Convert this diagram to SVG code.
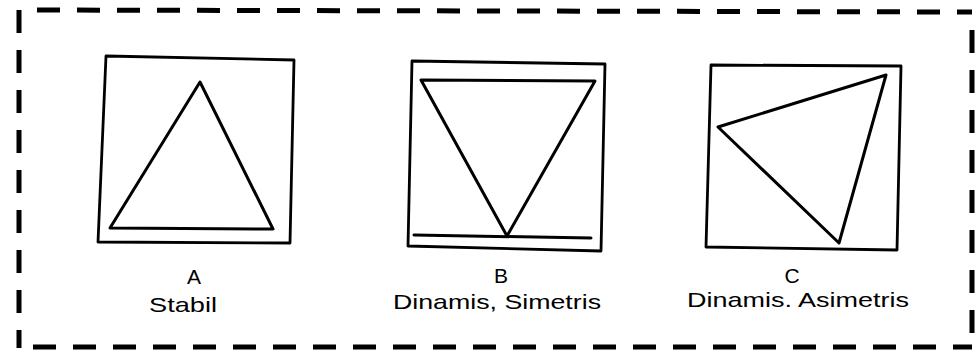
<svg xmlns="http://www.w3.org/2000/svg" width="979" height="356" viewBox="0 0 979 356">
<style>
.frame{fill:none;stroke:#000;stroke-width:5;stroke-dasharray:23 17;stroke-linecap:butt}
.box{fill:none;stroke:#000;stroke-width:2.8;stroke-linejoin:round;stroke-linecap:round}
.tri{fill:none;stroke:#000;stroke-width:3;stroke-linejoin:round;stroke-linecap:round}
.lbl{font-family:"Liberation Sans",Arial,sans-serif;font-size:21px;fill:#000;text-anchor:middle}
</style>
<rect width="979" height="356" fill="#fff"/>
<g id="frame">
<line class="frame" x1="37" y1="10" x2="972" y2="12"/>
<line class="frame" x1="19" y1="10" x2="19" y2="348"/>
<line class="frame" x1="33" y1="347" x2="972" y2="347"/>
<line class="frame" x1="972" y1="30" x2="972" y2="340"/>
</g>
<g id="panelA">
<path class="box" d="M106,56 L294,60 L290,243 L98,242 Z"/>
<path class="tri" d="M200,82 L273,229 L110,228 Z"/>
<text class="lbl" x="194" y="284" font-size="22">A</text>
<text class="lbl" x="183" y="312" textLength="68" lengthAdjust="spacingAndGlyphs">Stabil</text>
</g>
<g id="panelB">
<path class="box" d="M412,61 L605,64 L601,251 L408,246 Z"/>
<path class="tri" d="M421,80 L595,81 L507,236 Z"/>
<line class="tri" x1="414" y1="235" x2="591" y2="238"/>
<text class="lbl" x="501" y="283" font-size="22">B</text>
<text class="lbl" x="497" y="309" textLength="208" lengthAdjust="spacingAndGlyphs">Dinamis, Simetris</text>
</g>
<g id="panelC">
<path class="box" d="M711,65 L901,66 L897,250 L706,247 Z"/>
<path class="tri" d="M886,75 L718,127 L839,243 Z"/>
<text class="lbl" x="792" y="283" font-size="22">C</text>
<text class="lbl" x="798" y="307" textLength="222" lengthAdjust="spacingAndGlyphs">Dinamis. Asimetris</text>
</g>
</svg>
